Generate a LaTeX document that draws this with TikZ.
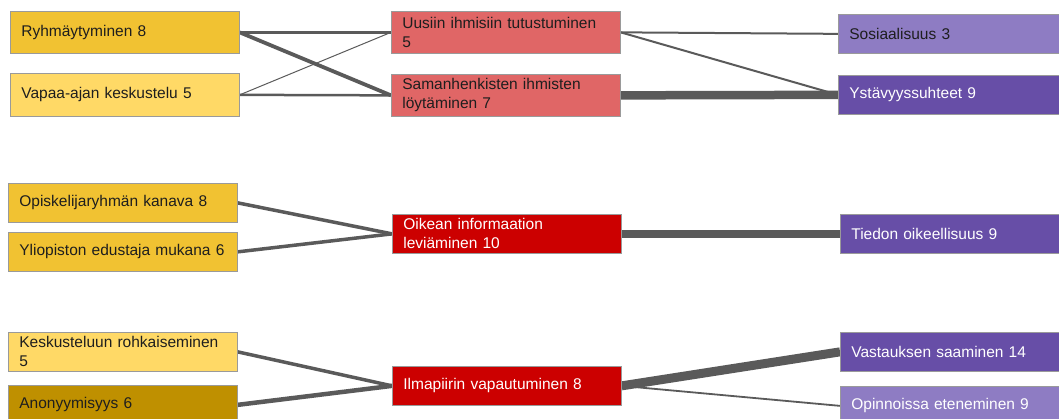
\documentclass[tikz,border=0pt]{standalone}
\usepackage{fontspec}
\setmainfont{Liberation Sans}
\usetikzlibrary{backgrounds}

\definecolor{gold}{HTML}{F1C232}
\definecolor{lightgold}{HTML}{FFD966}
\definecolor{darkgold}{HTML}{BF9000}
\definecolor{rose}{HTML}{E06666}
\definecolor{crimson}{HTML}{CC0000}
\definecolor{lilac}{HTML}{8E7CC3}
\definecolor{violet}{HTML}{674EA7}
\definecolor{boxline}{HTML}{9A9A9A}
\definecolor{linkgray}{HTML}{5A5A5A}
\definecolor{darktext}{HTML}{1E1E1E}

\begin{document}
\begin{tikzpicture}[x=1pt,y=-1pt,
  box/.style={draw=boxline, line width=0.7pt, anchor=north west,
    inner xsep=11pt, inner ysep=0pt, text width=207pt, minimum height=39pt,
    align=left, text=darktext, font=\fontsize{15.5}{18.8}\selectfont},
  midbox/.style={box, text width=207pt},
  rightbox/.style={box, text width=240pt},
  light/.style={text=white},
  link/.style={draw=linkgray, line cap=butt}]

\useasboundingbox (0,0) rectangle (1059,418);
\clip (0,0) rectangle (1059,418);

% first group
\node[box, fill=gold, minimum height=42pt] (ryhma) at (10,11) {Ryhmäytyminen 8};
\node[box, fill=lightgold, minimum height=43pt] (vapaa) at (10,73) {Vapaa-ajan keskustelu 5};
\node[midbox, fill=rose, minimum height=42pt] (uusi) at (391,11) {Uusiin ihmisiin tutustuminen\\5};
\node[midbox, fill=rose, minimum height=42pt] (saman) at (391,74) {Samanhenkisten ihmisten\\löytäminen 7};
\node[rightbox, fill=lilac] (sos) at (838,14) {Sosiaalisuus 3};
\node[rightbox, fill=violet, light] (ystava) at (838,75) {Ystävyyssuhteet 9};

% second group
\node[box, fill=gold] (opisk) at (8,183) {Opiskelijaryhmän kanava 8};
\node[box, fill=gold] (yliop) at (8,232) {Yliopiston edustaja mukana 6};
\node[midbox, fill=crimson, light] (oikea) at (392,214) {Oikean informaation\\leviäminen 10};
\node[rightbox, fill=violet, light] (tieto) at (840,214) {Tiedon oikeellisuus 9};

% third group
\node[box, fill=lightgold] (kesk) at (8,332) {Keskusteluun rohkaiseminen\\5};
\node[box, fill=darkgold] (anon) at (8,385) {Anonyymisyys 6};
\node[midbox, fill=crimson, light] (ilma) at (392,366) {Ilmapiirin vapautuminen 8};
\node[rightbox, fill=violet, light] (vast) at (840,332) {Vastauksen saaminen 14};
\node[rightbox, fill=lilac, light] (opin) at (840,386) {Opinnoissa eteneminen 9};

\begin{scope}[on background layer]
  \draw[link, line width=3.5pt] (ryhma.east) -- (uusi.west);
  \draw[link, line width=3.8pt] (ryhma.east) -- (saman.west);
  \draw[link, line width=1pt] (vapaa.east) -- (uusi.west);
  \draw[link, line width=2.5pt] (vapaa.east) -- (saman.west);
  \draw[link, line width=2pt] (uusi.east) -- (sos.west);
  \draw[link, line width=2pt] (uusi.east) -- (ystava.west);
  \draw[link, line width=8.5pt] (saman.east) -- (ystava.west);

  \draw[link, line width=3.5pt] (opisk.east) -- (oikea.west);
  \draw[link, line width=3.5pt] (yliop.east) -- (oikea.west);
  \draw[link, line width=8pt] (oikea.east) -- (tieto.west);

  \draw[link, line width=3.5pt] (kesk.east) -- (ilma.west);
  \draw[link, line width=4.5pt] (anon.east) -- (ilma.west);
  \draw[link, line width=9pt] (ilma.east) -- (vast.west);
  \draw[link, line width=1.8pt] (ilma.east) -- (opin.west);
\end{scope}
\end{tikzpicture}
\end{document}
